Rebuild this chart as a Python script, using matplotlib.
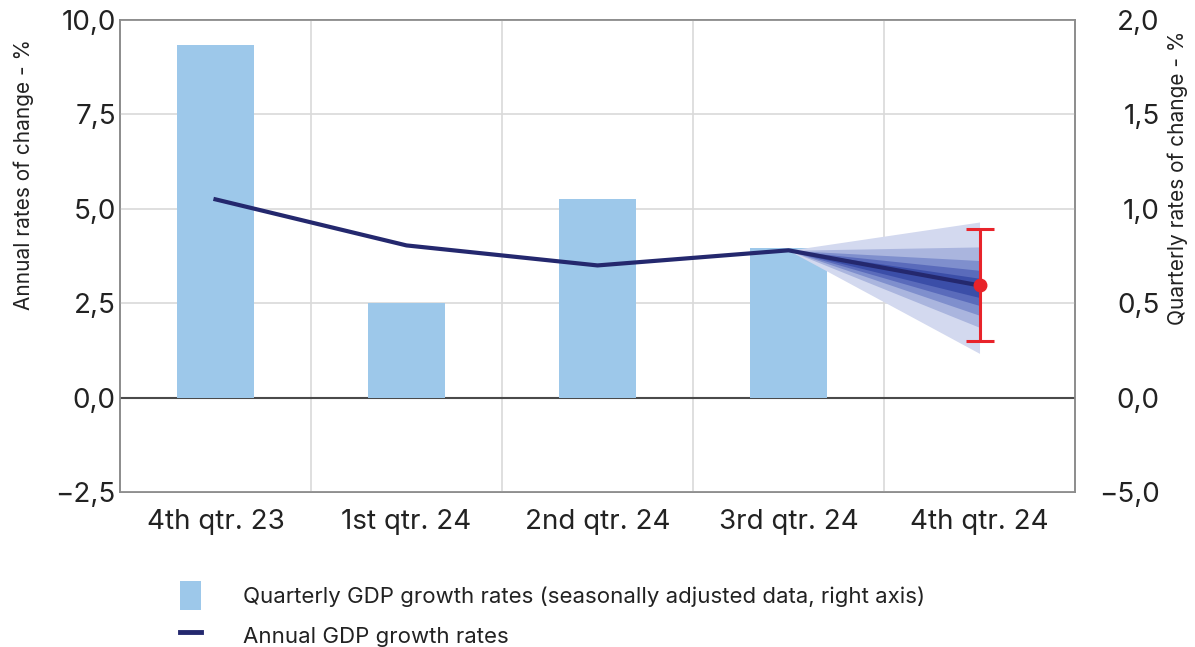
import numpy as np
import matplotlib.pyplot as plt
from matplotlib.patches import Patch
from matplotlib.lines import Line2D

plt.rcParams['font.family'] = ['Inter', 'DejaVu Sans']

# Data
quarters = ['4th qtr. 23', '1st qtr. 24', '2nd qtr. 24', '3rd qtr. 24', '4th qtr. 24']
quarterly_growth = [1.87, 0.50, 1.05, 0.79]          # right axis, first four quarters
annual_growth = [5.25, 4.03, 3.50, 3.90, 2.97]        # left axis
# fan bands at the last quarter (lower, upper), outermost first
fan_low = [1.17, 1.86, 2.18, 2.44, 2.65]
fan_high = [4.65, 3.99, 3.63, 3.37, 3.16]
err_low, err_high = 1.49, 4.46

left_ticks = [-2.5, 0.0, 2.5, 5.0, 7.5, 10.0]
left_labels = ['\u22122,5', '0,0', '2,5', '5,0', '7,5', '10,0']
right_ticks = [-0.5, 0.0, 0.5, 1.0, 1.5, 2.0]
right_labels = ['\u22125,0', '0,0', '0,5', '1,0', '1,5', '2,0']

bar_color = '#9dc8ea'
line_color = '#24286e'
fan_colors = ['#d3d9ef', '#aab5de', '#7f8fcd', '#5a6bbb', '#3b4ea8']
grid_color = '#d9d9d9'
frame_color = '#8c8c8c'
text_color = '#222222'

fig = plt.figure(figsize=(11.95, 6.47), dpi=100)
ax = fig.add_axes([0.1004, 0.2396, 0.7992, 0.7295])
ax2 = ax.twinx()

x = np.arange(len(quarters))

# bars on right axis (scale 1:5 of left axis)
ax2.bar(x[:len(quarterly_growth)], quarterly_growth, width=0.4, color=bar_color, zorder=2)
ax2.set_ylim(-0.5, 2.0)
ax.set_ylim(-2.5, 10.0)
ax.set_xlim(-0.5, 4.5)

# gridlines
for yv in left_ticks:
    ax2.axhline(yv / 5, color=grid_color, lw=1.2, zorder=0)
for xv in np.arange(0.5, 4.5, 1.0):
    ax2.axvline(xv, color=grid_color, lw=1.2, zorder=0)
ax2.axhline(0, color='#4a4a4a', lw=1.5, zorder=1)

# fan chart (drawn on right axis in left-axis units / 5)
xf = [x[3], x[4]]
for lo, hi, c in zip(fan_low, fan_high, fan_colors):
    ax2.fill_between(xf, [annual_growth[3] / 5, lo / 5], [annual_growth[3] / 5, hi / 5],
                     color=c, lw=0, zorder=3)

ax2.plot(x, np.array(annual_growth) / 5, color=line_color, lw=3, zorder=4)
ax2.errorbar([x[4]], [annual_growth[4] / 5],
             yerr=[[(annual_growth[4] - err_low) / 5], [(err_high - annual_growth[4]) / 5]],
             fmt='o', color='#e8232a', ms=9, elinewidth=2.2, capsize=10, capthick=2.2, zorder=5)

ax.set_yticks(left_ticks)
ax.set_yticklabels(left_labels)
ax2.set_yticks(right_ticks)
ax2.set_yticklabels(right_labels, ha='right')
ax.set_xticks(x)
ax.set_xticklabels(quarters)
ax.tick_params(axis='y', length=0, labelsize=20, colors=text_color, pad=3)
ax.tick_params(axis='x', length=0, labelsize=20, colors=text_color, pad=12)
ax2.tick_params(axis='y', length=0, labelsize=20, colors=text_color, pad=61)

for a in (ax, ax2):
    for s in a.spines.values():
        s.set_color(frame_color)
        s.set_linewidth(1.2)

ax.set_ylabel('Annual rates of change - %', fontsize=15, color=text_color)
ax.yaxis.set_label_coords(-0.090, 0.672)
ax2.set_ylabel('Quarterly rates of change - %', fontsize=15, color=text_color)
ax2.yaxis.set_label_coords(1.097, 0.665)

handles = [Patch(facecolor=bar_color, edgecolor='none'),
           Line2D([0], [0], color=line_color, lw=3.5)]
labels = ['Quarterly GDP growth rates (seasonally adjusted data, right axis)',
          'Annual GDP growth rates']
fig.legend(handles, labels, loc='upper left', bbox_to_anchor=(0.1506, 0.102),
           frameon=False, fontsize=16, handlelength=0.95, handleheight=1.6,
           handletextpad=1.9, labelspacing=0.52, borderaxespad=0, borderpad=0,
           labelcolor=text_color)

fig.savefig('out.png', dpi=100)
